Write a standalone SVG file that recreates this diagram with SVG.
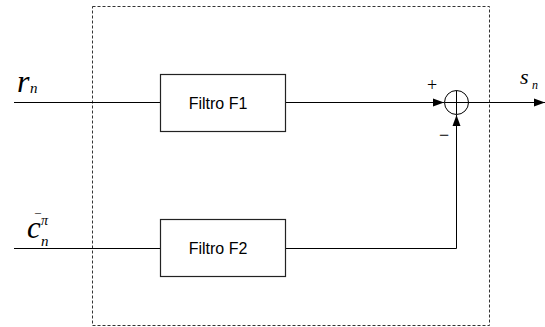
<svg xmlns="http://www.w3.org/2000/svg" width="545" height="327" viewBox="0 0 545 327">
<style>
.ln{stroke:#000;stroke-width:1;fill:none}
.box{stroke:#222;stroke-width:1.2;fill:#fff}
.lbl{font-family:"Liberation Sans",Arial,sans-serif;font-size:16px;fill:#000;text-anchor:middle}
.m{font-family:"Liberation Serif","Times New Roman",serif;font-style:italic;fill:#000}
.sg{font-family:"Liberation Serif","Times New Roman",serif;fill:#000;text-anchor:middle}
</style>
<defs>
<marker id="ah" markerWidth="12" markerHeight="10" refX="11" refY="5" orient="auto" markerUnits="userSpaceOnUse">
<path d="M0,1 L11,5 L0,9 Z" fill="#000"/>
</marker>
</defs>
<rect id="boundary" x="92.5" y="6.5" width="397" height="319" fill="none" stroke="#333" stroke-width="1" stroke-dasharray="3,2"/>
<g id="connectors">
<line class="ln" x1="14" y1="102.5" x2="160" y2="102.5"/>
<line class="ln" x1="286" y1="102.5" x2="444" y2="102.5" marker-end="url(#ah)"/>
<line class="ln" x1="468" y1="102.5" x2="545" y2="102.5" marker-end="url(#ah)"/>
<line class="ln" x1="14" y1="248.5" x2="160" y2="248.5"/>
<polyline class="ln" points="286,248.5 456.5,248.5 456.5,115" marker-end="url(#ah)"/>
</g>
<g id="F1">
<rect class="box" x="160.5" y="74.5" width="125" height="57"/>
<text class="lbl" x="218" y="109">Filtro F1</text>
</g>
<g id="F2">
<rect class="box" x="160.5" y="219.5" width="125" height="57"/>
<text class="lbl" x="218" y="254">Filtro F2</text>
</g>
<g id="sum">
<circle cx="456.5" cy="102.5" r="12" fill="none" stroke="#000" stroke-width="1"/>
<line class="ln" x1="444.5" y1="102.5" x2="468.5" y2="102.5"/>
<line class="ln" x1="456.5" y1="90.5" x2="456.5" y2="114.5"/>
<text class="sg" x="432" y="91" font-size="18">+</text>
<text class="sg" x="444" y="141" font-size="18">−</text>
</g>
<g id="labels">
<text class="m" x="17" y="92" font-size="32">r</text>
<text class="m" x="30" y="93" font-size="15">n</text>
<text class="m" x="27" y="238" font-size="31">c</text>
<text class="m" x="41" y="246" font-size="15">n</text>
<text class="m" x="41" y="225" font-size="14">π</text>
<text class="sg" x="38" y="223" font-size="12">¯</text>
<text class="m" x="520" y="84" font-size="22">s</text>
<text class="m" x="532" y="89" font-size="12">n</text>
</g>
</svg>
